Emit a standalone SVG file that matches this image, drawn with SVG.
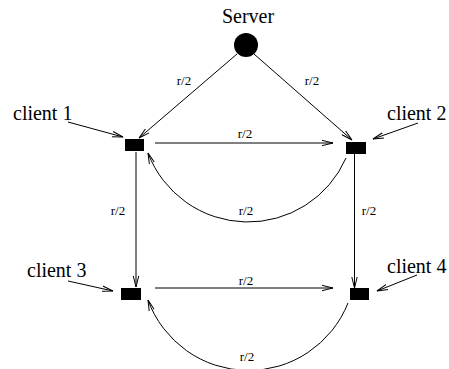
<svg xmlns="http://www.w3.org/2000/svg" width="449" height="369" viewBox="0 0 449 369">
<style>
.big{font-family:"Liberation Serif","Times New Roman",serif;font-size:20px;fill:#000}
.sm{font-family:"Liberation Serif","Times New Roman",serif;font-size:13px;fill:#000;text-anchor:middle}
.ln{fill:none;stroke:#000;stroke-width:1;marker-end:url(#a)}
</style>
<defs>
<marker id="a" markerWidth="12" markerHeight="8" refX="11" refY="4" orient="auto" markerUnits="userSpaceOnUse">
<path d="M0,1.3 L11,4 L0,6.7" fill="none" stroke="#000" stroke-width="1"/>
</marker>
</defs>
<g id="connectors">
<line class="ln" x1="237" y1="54" x2="139" y2="138"/>
<line class="ln" x1="254" y1="54" x2="352" y2="140"/>
<line class="ln" x1="155" y1="143" x2="333" y2="143"/>
<line class="ln" x1="136" y1="152" x2="136" y2="287"/>
<line class="ln" x1="354.5" y1="154" x2="354.5" y2="288"/>
<line class="ln" x1="155" y1="288" x2="333" y2="288"/>
<path class="ln" d="M346,158 A107,107 0 0 1 148,153"/>
<path class="ln" d="M348,303 A107,107 0 0 1 148,300"/>
<line class="ln" x1="68" y1="122" x2="123" y2="137"/>
<line class="ln" x1="418" y1="123" x2="373" y2="139"/>
<line class="ln" x1="68" y1="281" x2="113" y2="291"/>
<line class="ln" x1="417" y1="275" x2="377" y2="291"/>
<text class="sm" x="184" y="85">r/2</text>
<text class="sm" x="312" y="85">r/2</text>
<text class="sm" x="245" y="138">r/2</text>
<text class="sm" x="118" y="215">r/2</text>
<text class="sm" x="369" y="215">r/2</text>
<text class="sm" x="246" y="215">r/2</text>
<text class="sm" x="246" y="285">r/2</text>
<text class="sm" x="247" y="361">r/2</text>
</g>
<g id="server">
<circle cx="246" cy="45" r="12" fill="#000"/>
<text class="big" x="248" y="23" text-anchor="middle">Server</text>
</g>
<g id="client1">
<rect x="125" y="139" width="19" height="12" fill="#000"/>
<text class="big" x="13" y="120">client 1</text>
</g>
<g id="client2">
<rect x="346" y="142" width="20" height="12" fill="#000"/>
<text class="big" x="387" y="120">client 2</text>
</g>
<g id="client3">
<rect x="121" y="288" width="20" height="12" fill="#000"/>
<text class="big" x="27" y="277">client 3</text>
</g>
<g id="client4">
<rect x="350" y="288" width="19" height="12" fill="#000"/>
<text class="big" x="387" y="273">client 4</text>
</g>
</svg>
